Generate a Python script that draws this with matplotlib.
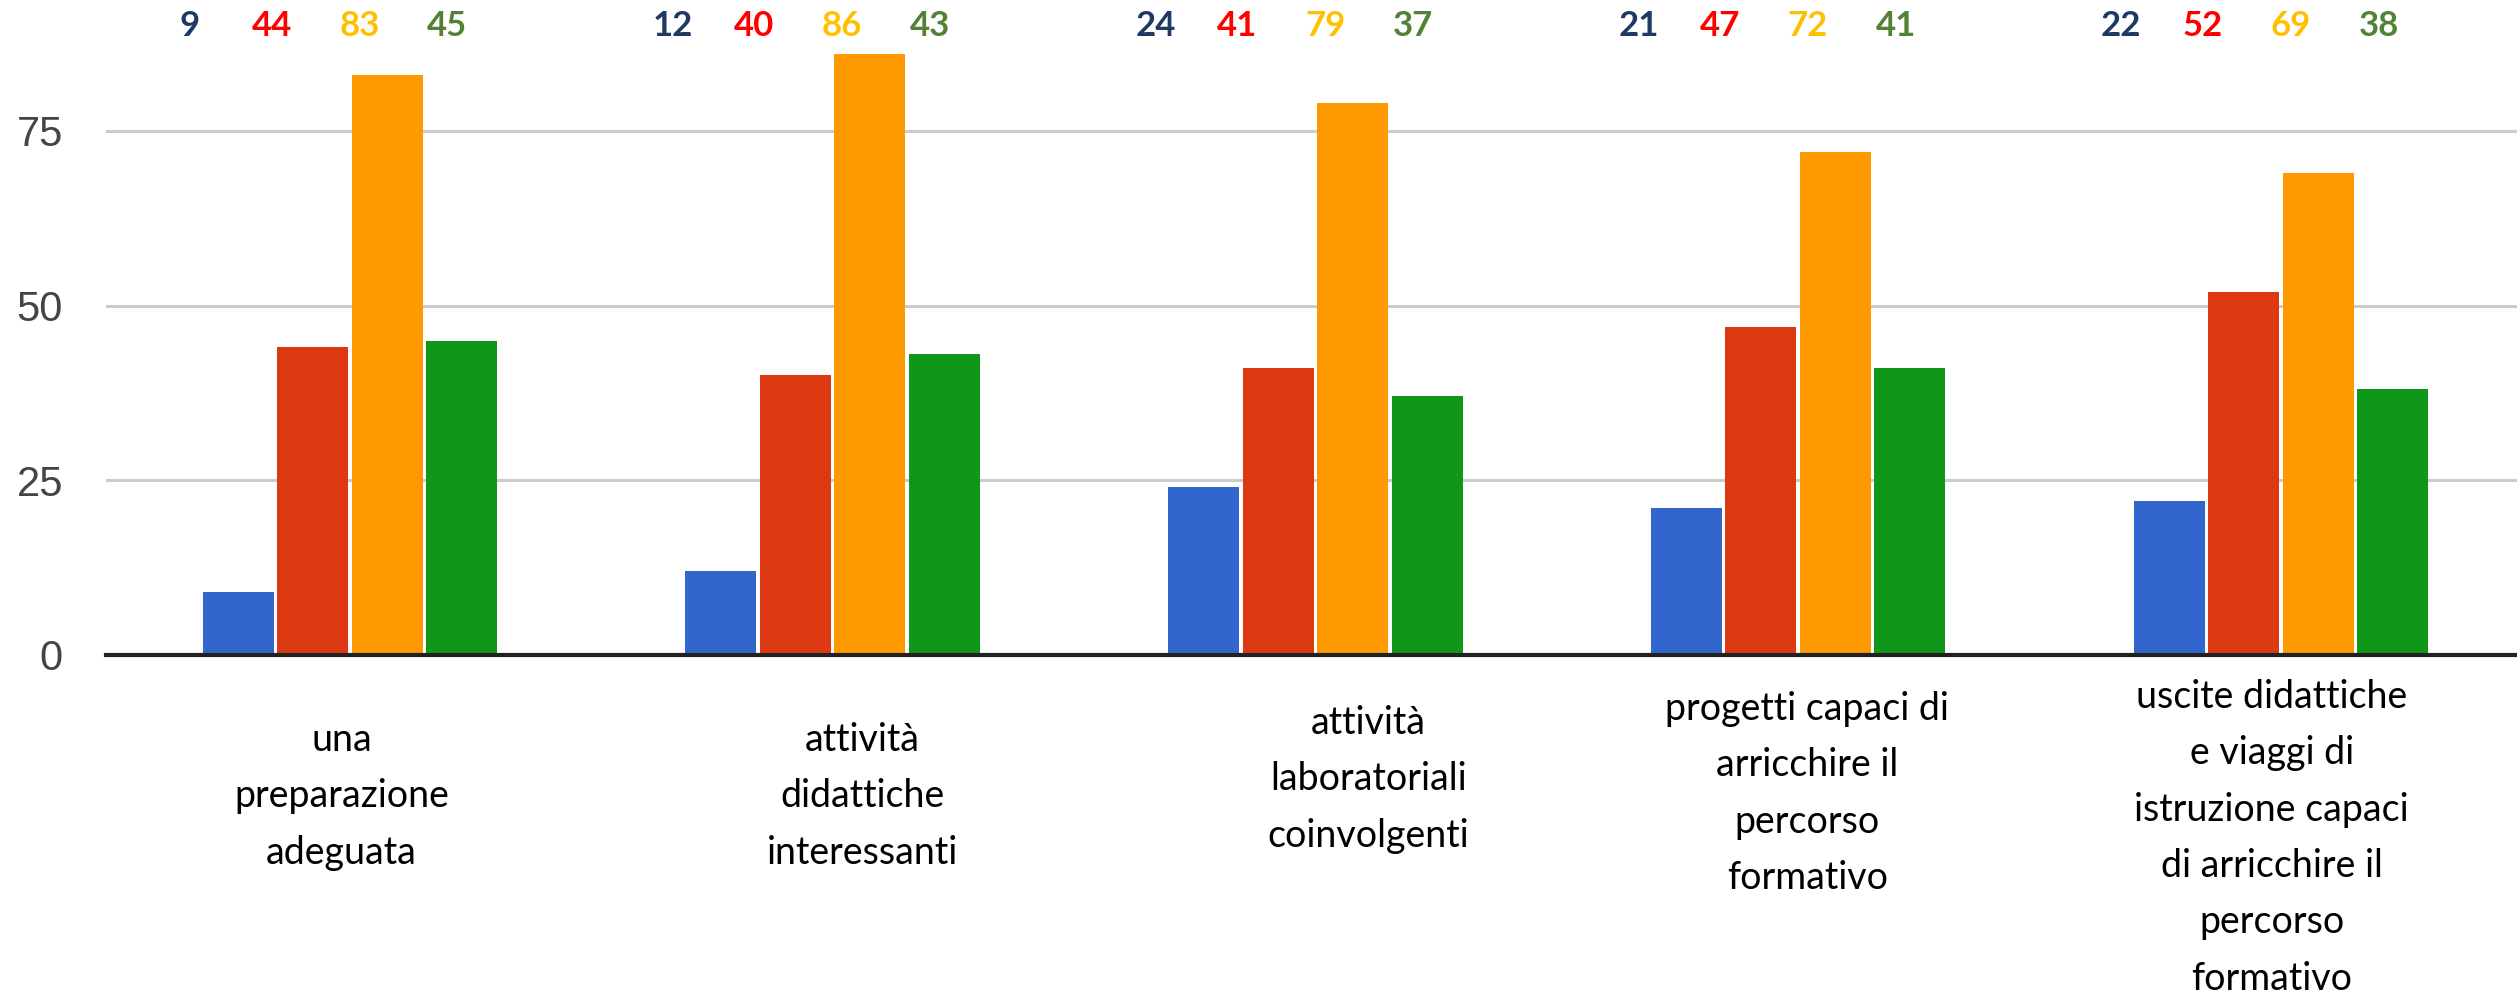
import matplotlib
matplotlib.use("Agg")
import matplotlib.pyplot as plt
import matplotlib.transforms as mtransforms
import numpy as np

categorie = [
    "una\npreparazione\nadeguata",
    "attività\ndidattiche\ninteressanti",
    "attività\nlaboratoriali\ncoinvolgenti",
    "progetti capaci di\narricchire il\npercorso\nformativo",
    "uscite didattiche\ne viaggi di\nistruzione capaci\ndi arricchire il\npercorso\nformativo",
]
blu = [9, 12, 24, 21, 22]
rosso = [44, 40, 41, 47, 52]
arancio = [83, 86, 79, 72, 69]
verde = [45, 43, 37, 41, 38]
y_ticks = [0, 25, 50, 75]

serie = [blu, rosso, arancio, verde]
colori_barre = ['#3366CC', '#DC3912', '#FF9900', '#109618']
colori_numeri = ['#1F3864', '#FF0000', '#FFC000', '#548235']

W, H = 2517, 1000
fig = plt.figure(figsize=(W / 100, H / 100), dpi=100)
ax = fig.add_axes([106 / W, 1 - 655 / H, 1 - 106 / W, 629 / H])

x = np.arange(len(categorie))
passo = 0.1543
larg = 0.147
for i, (vals, col) in enumerate(zip(serie, colori_barre)):
    ax.bar(x + (i - 1.5) * passo, vals, width=larg, color=col, zorder=3)

ax.set_xlim(-0.505, 4.489)
ax.set_ylim(0, 90)

# griglia orizzontale e linea base
for t in y_ticks[1:]:
    ax.axhline(t, color='#CCCCCC', linewidth=2.2, zorder=1)
ax.axhline(0, color='#222222', linewidth=3, zorder=4, clip_on=False)

for s in ax.spines.values():
    s.set_visible(False)
ax.set_xticks([])
ax.set_yticks(y_ticks)
ax.set_yticklabels([str(t) for t in y_ticks], fontsize=30, color='#444444',
                   family='Liberation Sans')
ax.tick_params(axis='y', length=0, pad=31)

trans = mtransforms.blended_transform_factory(ax.transData, fig.transFigure)

# numeri colorati in alto
off_num = [-0.331, -0.162, 0.02, 0.202]
for g in range(len(categorie)):
    for i, vals in enumerate(serie):
        ax.text(g + off_num[i], 1 - 26 / H, str(vals[g]), transform=trans,
                ha='center', va='center', fontsize=25, fontweight='bold',
                color=colori_numeri[i], family='Lato')

# etichette delle categorie
off_lab = [-0.017, 0.062, 0.11, 0.019, -0.019]
top_lab = [722, 722, 705, 691, 679]
for g, lab in enumerate(categorie):
    ax.text(g + off_lab[g], 1 - top_lab[g] / H, lab, transform=trans,
            ha='center', va='top', fontsize=27, color='black',
            family='Lato', linespacing=1.7, multialignment='center')

plt.savefig("out.png", dpi=100)
